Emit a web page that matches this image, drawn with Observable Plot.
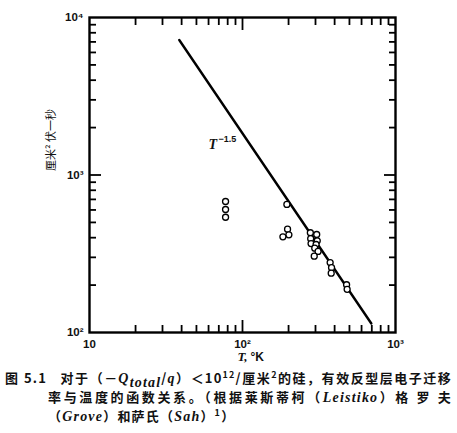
<!DOCTYPE html>
<html><head><meta charset="utf-8">
<script src="https://cdn.jsdelivr.net/npm/d3@7"></script>
<script src="https://cdn.jsdelivr.net/npm/@observablehq/plot@0.6"></script>
<style>
body{margin:0;background:#fff;width:457px;overflow:hidden;}
#cap{font-family:"Noto Sans CJK SC";font-weight:bold;font-size:13px;line-height:18px;color:#111;margin-top:3px;}
#cap .l{white-space:nowrap;letter-spacing:1.2px;}
#cap .j{text-align:justify;text-align-last:justify;}
#cap .l1{padding-left:5px;width:447px;}
#cap .l2{padding-left:48px;width:404px;}
#cap .l3{padding-left:48px;}
#cap i{font-family:"Liberation Serif";font-size:14px;}
#cap sub,#cap sup{font-size:9px;line-height:0;}
</style></head><body>
<div id="chart"></div>
<div id="cap">
<div class="l l1 j">图 5.1&nbsp;&nbsp;&nbsp;对于（－<i>Q</i><sub><i>total</i></sub>/<i>q</i>）＜10<sup>12</sup>/厘米<sup>2</sup>的硅，有效反型层电子迁移</div>
<div class="l l2 j">率与温度的函数关系。（根据莱斯蒂柯（<i>Leistiko</i>）格 罗 夫</div>
<div class="l l3">（<i>Grove</i>）和萨氏（<i>Sah</i>）<sup>1</sup>）</div>
</div>
<script>
// measured points: temperature (K) and mobility (cm²/V·s)
const temps = [77.5, 77.5, 77.5, 195, 197, 201, 183.7, 277.6, 305.5, 279, 308, 280.6, 302.7, 296.6, 311.9, 294.4, 374, 382, 380, 479, 483];
const mobility = [679, 604, 539, 650, 453, 417, 405, 430, 419, 394, 382, 367, 362, 343, 327, 305, 278, 258, 238, 201, 188];
// T^-1.5 reference line endpoints
const lineT = [38.6, 695];
const lineMu = [7200, 114];
// axis ticks
const xMajor = [10, 100, 1000];
const xMajorLabels = ["10", "10²", "10³"];
const yMajor = [100, 1000, 10000];
const yMajorLabels = ["10²", "10³", "10⁴"];
const xMinor = [20, 30, 40, 50, 60, 70, 80, 90, 200, 300, 400, 500, 600, 700, 800, 900];
const yMinor = [200, 300, 400, 500, 600, 700, 800, 900, 2000, 3000, 4000, 5000, 6000, 7000, 8000, 9000];
const xMid = [100];
const yMid = [1000];
// line label position
const labelT = [60];
const labelMu = [1560];

const pts = temps.map((t, i) => ({t, mu: mobility[i]}));
const seg = lineT.map((t, i) => ({t, mu: lineMu[i]}));

const minorLen = 7, majorLen = 12;
const noText = () => "";
const tickStyle = {stroke: "#000", strokeWidth: 1.8, tickFormat: noText, label: null};

const chart = Plot.plot({
  width: 457, height: 366,
  marginLeft: 89, marginRight: 62, marginTop: 17, marginBottom: 34,
  x: {type: "log", domain: [10, 1000]},
  y: {type: "log", domain: [100, 10000]},
  style: {fontFamily: "Liberation Sans, Arial, sans-serif", fontSize: "11.5px", color: "#111", background: "#fff"},
  marks: [
    Plot.frame({stroke: "#000", strokeWidth: 2.4}),
    // inward ticks on all four sides
    Plot.axisX(xMinor, {anchor: "bottom", tickSize: -minorLen, ...tickStyle}),
    Plot.axisX(xMinor, {anchor: "top", tickSize: -minorLen, ...tickStyle}),
    Plot.axisY(yMinor, {anchor: "left", tickSize: -minorLen, ...tickStyle}),
    Plot.axisY(yMinor, {anchor: "right", tickSize: -minorLen, ...tickStyle}),
    Plot.axisX(xMid, {anchor: "bottom", tickSize: -majorLen, ...tickStyle}),
    Plot.axisX(xMid, {anchor: "top", tickSize: -majorLen, ...tickStyle}),
    Plot.axisY(yMid, {anchor: "left", tickSize: -majorLen, ...tickStyle}),
    Plot.axisY(yMid, {anchor: "right", tickSize: -majorLen, ...tickStyle}),
    Plot.axisX(xMajor, {anchor: "bottom", tickSize: 0, tickPadding: 7, fontWeight: "bold",
      tickFormat: d => xMajorLabels[xMajor.indexOf(d)], label: null}),
    Plot.axisY(yMajor, {anchor: "left", tickSize: 0, tickPadding: 6, fontWeight: "bold",
      tickFormat: d => yMajorLabels[yMajor.indexOf(d)], label: null}),
    Plot.line(seg, {x: "t", y: "mu", stroke: "#000", strokeWidth: 2.4}),
    Plot.dot(pts, {x: "t", y: "mu", r: 3, stroke: "#000", fill: "#fff", strokeWidth: 1.3}),
    Plot.text(labelT, {x: d => d, y: (d, i) => labelMu[i], text: () => "T", textAnchor: "start",
      fontFamily: "Liberation Serif", fontStyle: "italic", fontWeight: "bold", fontSize: 14}),
    Plot.text(labelT, {x: d => d, y: (d, i) => labelMu[i], text: () => "−1.5", textAnchor: "start", dx: 10, dy: -5,
      fontFamily: "Liberation Sans", fontWeight: "bold", fontSize: 9}),
    Plot.text([0], {frameAnchor: "bottom", text: () => "T,", textAnchor: "end", dx: 5, dy: 28,
      fontFamily: "Liberation Serif", fontStyle: "italic", fontWeight: "bold", fontSize: 13}),
    Plot.text([0], {frameAnchor: "bottom", text: () => "°K", textAnchor: "start", dx: 8, dy: 28,
      fontFamily: "Liberation Sans", fontWeight: "bold", fontSize: 12}),
    Plot.text([0], {frameAnchor: "left", text: () => "厘米² 伏一秒", rotate: -90, dx: -38, dy: -4,
      fontFamily: "Noto Sans CJK SC", fontSize: 11})
  ]
});
document.getElementById("chart").appendChild(chart);
</script>
</body></html>
